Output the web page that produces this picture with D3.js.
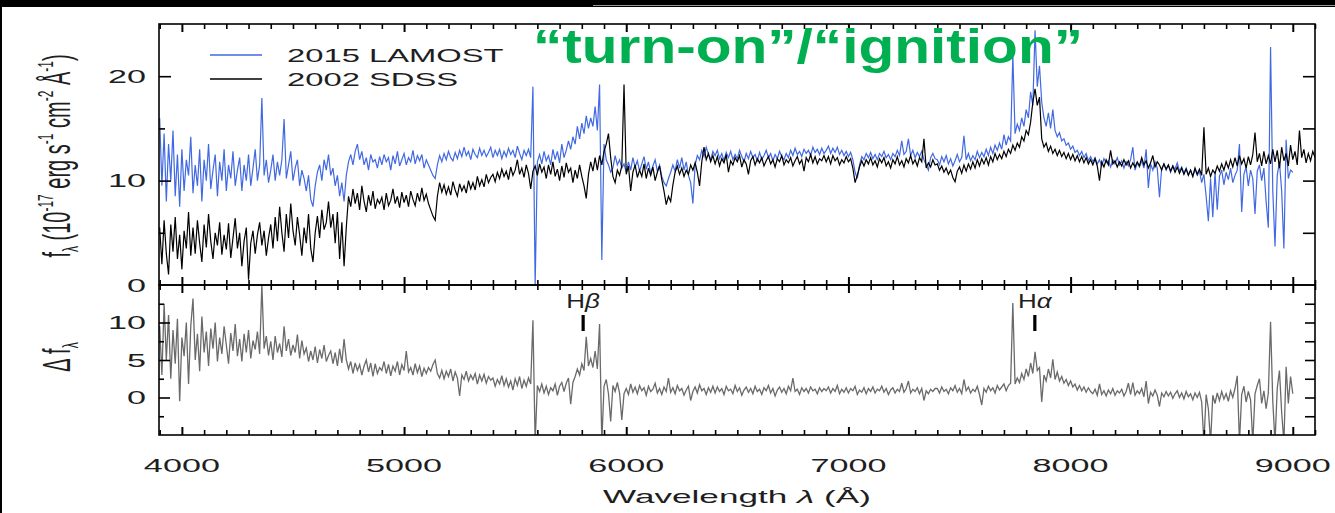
<!DOCTYPE html>
<html><head><meta charset="utf-8">
<script src="https://cdn.jsdelivr.net/npm/d3@7"></script>
<style>
html,body{margin:0;padding:0;background:#000;overflow:hidden;}
svg{display:block;}
text{font-family:"Liberation Sans",Arial,Helvetica,sans-serif;fill:#1e1e1e;}
</style></head><body>
<svg id="c" width="1335" height="513"></svg>
<script>
// ---- data: spectra sampled on a 10 Å grid starting at 3900 Å ----
const waveStart = 3900, waveStep = 10;
const lamost2015 = [
16.0,9.5,14.5,8.0,13.5,10.0,14.8,8.5,12.5,7.5,13.0,9.0,12.0,10.5,14.2,8.8,11.5,9.5,13.0,8.0,12.0,10.0,13.5,9.2,11.0,12.5,8.5,11.8,10.0,13.0,9.0,11.5,10.2,12.8,9.5,11.0,12.2,9.0,11.5,10.0,12.5,9.5,11.2,13.0,10.0,11.5,17.9,10.5,12.0,9.8,
11.0,12.5,10.0,11.8,10.5,12.0,15.9,10.2,11.5,12.8,10.0,11.2,12.0,9.5,11.0,10.2,9.0,10.5,8.2,7.5,9.5,10.8,11.5,10.0,12.0,11.0,12.5,10.5,11.2,9.5,10.5,8.5,9.8,8.0,10.5,11.8,12.5,11.5,12.8,13.5,12.0,12.8,11.5,12.2,11.0,12.5,11.8,12.0,11.2,12.3,
11.5,12.5,11.8,12.2,11.0,12.4,11.6,12.8,11.4,12.0,12.6,11.5,12.2,11.8,12.9,11.6,12.4,11.9,12.5,11.2,12.0,11.5,11.0,10.5,10.2,11.5,12.4,11.8,12.6,12.0,12.8,12.2,11.9,12.7,12.1,12.9,12.3,13.2,12.4,12.8,12.0,13.0,12.5,12.2,13.1,12.4,12.9,12.3,12.7,13.2,
12.2,12.9,12.4,13.0,12.1,12.8,12.3,13.1,12.5,12.9,12.2,13.3,12.6,12.0,12.9,12.4,13.0,12.2,19.0,0.0,11.8,12.5,11.6,12.8,11.9,12.4,11.5,13.0,12.0,12.8,11.7,13.5,12.2,12.9,13.8,13.0,14.2,13.5,15.2,14.0,15.5,14.5,16.2,15.0,16.0,15.2,17.1,14.8,19.2,2.4,
13.5,12.0,11.5,10.8,11.2,12.4,11.5,12.0,11.2,11.6,10.8,11.8,11.0,12.2,11.3,11.9,10.9,11.6,12.3,11.1,11.8,10.7,11.4,12.0,10.9,11.5,10.4,9.8,9.5,10.2,10.8,11.5,10.9,12.0,11.2,12.2,11.0,11.8,10.5,9.8,7.8,11.5,12.4,12.0,12.9,12.3,13.2,12.5,12.0,12.8,
12.4,12.9,12.1,12.6,11.9,12.7,12.2,12.8,12.0,12.5,12.1,12.9,12.3,11.8,12.6,12.1,12.8,12.2,12.5,11.9,12.7,12.0,12.4,12.9,12.2,12.6,11.9,12.5,12.1,12.8,12.3,12.0,12.6,12.2,12.9,12.4,13.1,12.5,12.8,12.3,13.0,12.6,12.9,12.4,13.2,12.7,13.0,12.5,13.1,12.6,
12.9,13.3,12.6,13.1,12.7,13.2,12.5,12.9,12.4,12.8,12.3,12.7,12.0,10.8,10.2,11.5,12.3,12.0,12.6,12.2,12.7,12.1,12.5,12.0,12.6,12.3,12.8,12.2,12.5,12.0,12.6,12.3,12.9,12.4,13.8,12.5,12.8,14.0,12.4,12.9,12.2,12.7,12.3,12.8,12.0,11.5,11.0,12.2,12.6,12.1,
12.0,11.5,12.3,11.8,12.4,11.6,12.1,11.4,11.9,12.5,11.8,12.2,14.3,12.0,12.6,11.9,12.4,12.0,12.8,12.2,12.7,12.3,13.0,12.4,13.2,12.6,13.4,12.9,13.6,13.0,14.4,13.4,14.2,13.8,22.0,14.5,15.4,14.8,16.0,15.2,16.8,16.0,18.5,17.2,24.4,19.0,21.0,17.5,16.0,15.2,
16.5,15.0,16.8,14.8,14.2,14.6,13.8,14.0,13.4,13.6,13.0,13.3,12.7,12.9,12.4,12.8,12.2,12.6,11.9,12.3,11.8,12.2,11.6,12.0,11.4,12.1,11.7,11.9,11.3,12.0,11.6,12.2,11.5,11.9,11.2,11.8,11.4,12.0,13.2,11.0,11.7,11.3,11.9,11.2,13.0,9.3,11.6,11.0,11.8,11.2,
8.4,11.2,11.6,11.0,11.5,10.8,11.4,11.1,11.7,10.9,11.3,10.7,11.2,10.6,11.0,10.4,11.1,10.5,10.9,9.8,10.6,8.5,6.1,10.2,6.5,10.8,7.2,10.4,11.0,9.6,10.8,10.1,11.2,9.8,10.5,11.0,13.5,7.0,10.6,11.3,9.5,11.0,10.2,6.8,10.9,11.5,10.0,11.2,8.0,5.5,
22.8,9.0,3.7,10.5,11.8,9.0,3.5,13.9,10.2,11.0,10.8
];
const sdss2002 = [
5.5,2.0,6.2,3.0,1.0,5.8,3.2,6.5,2.5,4.8,1.5,5.2,3.5,7.0,2.8,5.5,3.0,6.2,4.0,2.2,5.8,3.6,6.8,4.2,2.5,5.0,3.8,6.0,2.9,4.8,3.4,5.9,2.6,4.5,6.4,3.5,5.0,1.8,4.2,5.5,0.5,4.0,5.2,3.0,4.8,6.0,3.8,5.2,2.8,4.5,
5.8,3.5,6.5,4.2,7.5,5.0,3.2,6.8,4.5,7.8,5.2,3.8,6.5,4.8,2.8,5.5,4.0,6.8,3.5,2.2,5.0,6.6,4.5,7.2,5.3,6.0,8.0,5.5,6.8,4.0,7.0,2.5,6.0,1.8,5.5,8.5,7.5,9.2,7.8,8.8,7.2,9.5,8.0,7.0,8.6,7.6,9.0,7.3,8.2,7.8,
8.4,7.2,8.8,7.6,8.1,9.2,7.8,8.5,7.4,8.9,7.9,8.6,7.5,9.0,8.2,7.6,8.8,8.0,9.3,8.1,8.7,7.8,7.2,6.6,6.2,8.5,9.8,8.9,9.6,8.7,9.4,8.6,9.9,9.1,8.5,9.7,9.0,9.5,8.8,10.0,9.2,9.8,9.1,10.4,9.5,10.1,9.4,10.6,9.8,10.3,
10.6,9.9,10.8,10.2,11.1,10.4,10.9,10.1,11.3,10.5,11.0,12.0,10.6,11.2,10.3,11.5,10.7,9.2,10.9,11.4,10.5,11.6,10.8,11.3,10.2,11.5,10.6,11.8,10.4,11.1,10.0,11.4,10.3,11.7,10.8,11.2,9.8,11.0,10.2,11.5,10.4,9.5,8.3,10.6,11.8,10.9,12.2,11.0,12.4,11.5,
12.8,13.5,14.5,12.2,10.4,9.8,11.0,10.5,11.4,19.2,10.6,11.4,9.0,10.8,11.5,10.3,11.0,10.4,11.6,10.2,11.2,10.5,11.3,10.0,10.8,11.4,10.1,9.0,7.7,8.5,8.0,9.6,10.8,11.4,10.6,11.2,10.4,11.0,10.6,11.5,11.0,11.7,10.8,9.5,11.8,13.2,12.0,12.6,11.8,12.4,
11.6,12.3,11.4,12.1,11.7,12.5,10.8,11.9,11.5,12.2,11.8,12.4,11.3,12.0,11.6,10.6,11.9,12.3,11.5,12.1,11.7,12.2,11.4,11.9,12.3,11.6,12.0,11.3,12.1,11.8,12.4,11.5,12.0,11.7,12.2,11.4,11.9,12.3,11.6,12.0,10.9,12.2,11.8,12.5,11.7,12.3,11.6,12.1,11.9,12.4,
11.8,12.3,11.6,12.4,11.9,12.2,11.5,12.0,11.7,12.3,11.8,12.1,11.2,9.8,10.5,11.3,11.9,11.4,12.0,11.6,12.2,11.5,11.9,11.3,12.1,11.7,12.2,11.4,11.8,11.2,12.0,11.6,12.3,11.5,11.9,11.3,12.1,11.7,12.4,11.6,12.0,11.4,12.2,11.8,14.0,11.2,11.7,11.3,12.0,11.5,
11.6,11.0,11.4,10.8,11.2,10.6,11.0,10.3,9.9,10.9,11.3,10.7,11.5,10.9,11.6,11.1,11.8,11.2,12.0,11.4,12.1,11.6,12.2,11.5,12.3,11.8,12.6,12.0,12.5,12.1,12.8,12.3,13.0,12.6,13.4,12.9,13.6,13.2,14.2,13.8,14.8,14.4,15.6,17.5,18.8,17.2,18.0,14.0,13.2,13.6,
12.8,13.3,12.6,13.0,12.4,12.9,12.3,12.7,12.1,12.6,12.0,12.5,11.9,12.4,11.8,12.3,11.7,12.2,11.6,12.0,11.5,12.1,11.4,10.0,11.8,11.3,12.0,11.5,12.9,11.6,11.9,11.3,11.8,11.4,12.0,11.5,11.9,11.2,11.7,11.3,11.8,11.4,12.2,11.5,11.9,11.2,11.7,12.4,11.3,11.8,
11.5,11.0,11.6,11.1,11.5,10.9,11.4,10.8,11.3,10.7,11.2,10.6,11.1,10.5,11.0,10.4,11.2,10.6,11.1,10.5,15.1,10.6,11.2,10.4,11.0,10.7,11.4,10.9,11.6,11.0,11.8,11.2,12.0,11.3,12.2,11.4,12.4,11.6,12.1,11.2,12.3,11.5,12.5,14.6,11.8,12.6,11.4,12.8,11.6,12.4,
11.6,13.0,11.8,12.9,11.2,13.2,11.9,12.6,11.4,13.4,12.0,12.8,11.5,14.8,12.2,13.0,11.7,12.6,11.9,12.8,12.2
];
const deltaFlux = [
9.5,3.0,12.5,5.0,11.0,2.5,9.0,4.5,10.5,-0.5,8.0,5.5,10.0,1.8,9.5,13.2,5.0,8.5,3.5,10.8,6.0,8.8,4.2,9.2,6.5,10.0,4.8,8.0,5.8,9.5,7.0,4.5,8.6,6.2,9.8,5.5,7.8,4.8,8.5,6.0,9.0,5.2,7.6,6.4,8.8,5.8,15.0,6.5,8.2,5.6,
7.5,5.0,8.2,6.0,7.2,5.4,9.5,6.2,7.8,5.6,7.0,6.0,8.4,5.2,7.6,5.8,6.6,4.8,6.2,5.0,6.8,4.6,6.4,5.2,7.0,4.8,5.6,6.2,4.5,6.0,4.2,6.5,4.6,7.8,5.0,3.8,4.8,3.2,4.6,3.6,4.4,3.0,4.2,5.0,3.4,4.6,2.8,4.5,3.2,4.0,
3.6,4.8,3.2,4.4,2.9,4.2,3.5,4.8,3.0,4.4,3.6,6.2,3.4,4.0,3.0,4.5,3.3,4.2,2.8,3.9,3.2,4.0,3.5,4.4,5.0,3.2,2.6,3.6,2.5,3.5,2.8,3.8,2.2,3.4,2.6,0.2,3.0,2.4,3.5,2.2,3.0,2.4,3.2,1.8,3.0,2.2,3.1,1.9,2.8,2.3,
2.6,1.5,2.4,1.8,2.9,1.6,2.5,1.4,2.2,1.0,2.5,1.6,2.8,1.2,2.3,1.5,2.6,1.8,10.3,-6.0,1.6,0.8,1.8,0.6,1.5,0.4,1.3,0.9,1.8,0.3,1.5,2.0,0.8,1.9,2.6,-0.9,2.0,2.8,3.8,3.0,4.5,3.6,8.1,4.2,5.2,4.0,6.2,3.8,9.8,-6.0,
1.5,2.4,0.5,-3.2,1.6,0.8,2.0,0.6,-3.0,0.5,1.2,0.4,1.8,0.7,1.4,0.5,1.6,0.9,1.3,0.3,1.5,0.8,1.1,1.9,0.6,1.2,0.4,1.4,0.8,2.6,0.7,1.3,0.5,1.6,0.9,1.2,0.3,1.0,1.5,-0.4,0.8,1.4,0.6,1.7,0.9,1.2,0.4,1.3,0.7,1.5,
0.6,1.4,0.8,1.2,0.4,1.5,0.9,1.1,0.5,1.6,0.8,1.3,0.3,1.0,1.4,0.7,1.2,0.5,1.5,0.8,1.1,0.4,1.3,0.9,1.6,0.6,1.2,0.2,1.0,1.4,0.7,1.2,0.5,1.5,0.9,2.6,0.8,1.1,0.4,1.3,0.8,1.2,0.6,1.4,0.9,1.1,0.5,1.3,0.8,1.2,
0.9,1.4,0.6,1.2,0.8,1.6,0.5,1.1,0.7,1.3,0.6,1.2,0.9,1.5,0.4,1.0,0.7,1.3,0.5,1.2,0.8,1.4,0.6,1.1,0.9,1.5,0.7,1.2,0.4,1.0,1.3,0.6,1.1,0.8,1.9,0.7,1.2,2.2,0.6,1.1,0.8,1.3,0.5,1.2,-0.4,0.9,0.5,1.1,0.8,1.2,
1.2,0.6,1.4,0.8,1.1,0.5,1.3,0.9,1.6,0.7,1.2,0.5,2.4,0.9,1.4,0.6,1.1,0.8,1.5,0.4,-1.0,1.2,0.7,1.5,0.9,1.3,0.6,1.6,1.0,1.4,1.8,0.9,1.6,1.9,12.6,1.8,2.6,2.0,3.2,2.4,3.8,2.8,4.6,3.2,6.1,3.6,4.0,-0.6,3.0,2.2,
3.8,2.6,5.1,2.4,3.4,2.2,2.8,1.9,2.4,1.6,2.2,1.4,1.8,1.0,1.6,0.9,1.4,0.7,1.3,0.8,0.5,1.1,0.3,1.8,0.4,0.9,0.2,1.0,0.5,1.2,0.3,0.9,0.6,1.1,0.2,0.8,1.9,0.4,2.0,0.3,0.9,0.5,1.2,0.1,2.2,-0.8,0.7,0.2,1.0,0.3,
-1.2,0.6,0.1,0.8,0.2,0.7,-0.1,0.5,0.9,0.0,0.6,-0.2,0.8,0.1,0.5,-0.3,0.6,0.0,0.7,-0.6,-6.0,0.4,-1.5,-6.0,0.3,-0.8,0.6,-0.4,0.8,-0.2,0.5,-0.5,0.9,0.0,1.2,2.9,-6.0,0.4,1.5,-0.6,0.8,-0.3,-6.0,0.5,1.6,2.5,-0.8,0.9,-1.5,0.6,
10.1,-0.5,-6.0,1.2,3.6,-2.0,-6.0,4.1,-0.8,2.8,0.5
];
const xMajorTicks = [4000,5000,6000,7000,8000,9000];
const upperYLabels = [0,10,20];
const lowerYLabels = [0,5,10];
const lineMarkers = [{base:"H", greek:"β", wave:5806},{base:"H", greek:"α", wave:7839}];
const legendLabels = ["2015 LAMOST","2002 SDSS"];
const annotation = "\u201Cturn-on\u201D/\u201Cignition\u201D";

// ---- layout ----
const L = 159, R = 1315, T = 24, MID = 285, B = 435;
const SX = 1.9;                       // horizontal stretch of the original figure text
const blue = "#4169e1", gray = "#6a6a6a";

const svg = d3.select("#c");
svg.append("rect").attr("x",2).attr("y",7).attr("width",1333).attr("height",506).attr("fill","#fff");
svg.append("line").attr("x1",593).attr("x2",1335).attr("y1",5.5).attr("y2",5.5).attr("stroke","#9a9a9a").attr("stroke-width",1);

const x = d3.scaleLinear().domain([3897,9100]).range([L,R]);
const yU = d3.scaleLinear().domain([0,25]).range([MID,T]);
const yL = d3.scaleLinear().domain([-5,15]).range([B,MID]);
const wave = i => waveStart + i*waveStep;

const defs = svg.append("defs");
defs.append("clipPath").attr("id","cu").append("rect").attr("x",L).attr("y",T).attr("width",R-L).attr("height",MID-T);
defs.append("clipPath").attr("id","cl").append("rect").attr("x",L).attr("y",MID).attr("width",R-L).attr("height",B-MID);

const lineU = d3.line().x((d,i)=>x(wave(i))).y(d=>yU(d));
const lineL = d3.line().x((d,i)=>x(wave(i))).y(d=>yL(d));

const gU = svg.append("g").attr("clip-path","url(#cu)");
gU.append("path").datum(lamost2015).attr("d",lineU).attr("fill","none").attr("stroke",blue).attr("stroke-width",1.2);
gU.append("path").datum(sdss2002).attr("d",lineU).attr("fill","none").attr("stroke","#000").attr("stroke-width",1.2);
const gL = svg.append("g").attr("clip-path","url(#cl)");
gL.append("path").datum(deltaFlux).attr("d",lineL).attr("fill","none").attr("stroke",gray).attr("stroke-width",1.3);

// frames
[[T,MID],[MID,B]].forEach(([a,b])=>{
  svg.append("rect").attr("x",L).attr("y",a).attr("width",R-L).attr("height",b-a)
    .attr("fill","none").attr("stroke","#000").attr("stroke-width",1.6);
});

// ticks via d3 axes
const minorX = d3.range(3900,9101,100).filter(v=>!xMajorTicks.includes(v));
function axisTicks(axis, tx, ty, w){
  const g = svg.append("g").attr("transform",`translate(${tx},${ty})`).call(axis);
  g.select(".domain").remove();
  g.selectAll("line").attr("stroke","#000").attr("stroke-width",w);
  g.selectAll("text").remove();
}
[[T,"down"],[MID,"up"],[MID,"down"],[B,"up"]].forEach(([yy,dir])=>{
  const mk = dir==="down" ? d3.axisBottom : d3.axisTop;
  axisTicks(mk(x).tickValues(minorX).tickSize(5).tickFormat(""),0,yy,1.6);
  axisTicks(mk(x).tickValues(xMajorTicks).tickSize(8).tickFormat(""),0,yy,2);
});
axisTicks(d3.axisRight(yU).tickValues([10,20]).tickSize(12).tickFormat(""),L,0,1.6);
axisTicks(d3.axisRight(yU).tickValues([5,15]).tickSize(6).tickFormat(""),L,0,1.6);
axisTicks(d3.axisLeft(yU).tickValues([5,10,15,20]).tickSize(12).tickFormat(""),R,0,1.6);
axisTicks(d3.axisRight(yL).tickValues([0,5,10]).tickSize(11).tickFormat(""),L,0,1.6);
axisTicks(d3.axisRight(yL).tickValues([-2.5,2.5,7.5,12.5]).tickSize(5).tickFormat(""),L,0,1.6);
axisTicks(d3.axisLeft(yL).tickValues([-2.5,0,2.5,5,7.5,10,12.5]).tickSize(10).tickFormat(""),R,0,1.6);

// stretched text helper
function sText(px, py, anchor, size, sx){
  return svg.append("g").attr("transform",`translate(${px},${py}) scale(${sx},1)`)
    .append("text").attr("text-anchor",anchor).attr("font-size",size);
}
xMajorTicks.forEach(v=> sText(x(v),471.5,"middle",18,SX).text(v));
upperYLabels.forEach(v=> sText(146,yU(v)+6.5,"end",18,SX).text(v));
lowerYLabels.forEach(v=> sText(146,yL(v)+6.5,"end",18,SX).text(v));

// x title
const xt = sText(737,503,"middle",18.5,SX);
xt.append("tspan").text("Wavelength ");
xt.append("tspan").attr("font-style","italic").text("λ");
xt.append("tspan").text(" (Å)");

// y titles (rotated, stretched horizontally on screen)
function yTitle(cy, size){
  return svg.append("g").attr("transform",`translate(70,${cy}) scale(${SX},1) rotate(-90)`)
    .append("text").attr("text-anchor","middle").attr("font-size",size);
}
const yt = yTitle(156,20);
yt.append("tspan").text("f");
yt.append("tspan").attr("font-size",12).attr("dy",4).text("λ");
yt.append("tspan").attr("dy",-4).text(" (10");
yt.append("tspan").attr("font-size",12).attr("dy",-9).text("-17");
yt.append("tspan").attr("dy",9).text(" erg s");
yt.append("tspan").attr("font-size",12).attr("dy",-9).text("-1");
yt.append("tspan").attr("dy",9).text(" cm");
yt.append("tspan").attr("font-size",12).attr("dy",-9).text("-2");
yt.append("tspan").attr("dy",9).text(" Å");
yt.append("tspan").attr("font-size",12).attr("dy",-9).text("-1");
yt.append("tspan").attr("dy",9).text(")");
const yt2 = yTitle(357,20);
yt2.append("tspan").text("Δ f");
yt2.append("tspan").attr("font-size",12).attr("dy",4).text("λ");

// legend
const legColors = [blue,"#000"];
const legY = [55,79];
legendLabels.forEach((lab,i)=>{
  svg.append("line").attr("x1",210).attr("x2",262).attr("y1",legY[i]).attr("y2",legY[i])
    .attr("stroke",legColors[i]).attr("stroke-width",1.5);
  sText(287,legY[i]+7.3,"start",18,1.82).text(lab);
});

// emission line markers
lineMarkers.forEach(m=>{
  const t = sText(x(m.wave),308,"middle",20,1.3);
  t.append("tspan").text(m.base);
  t.append("tspan").attr("font-style","italic").text(m.greek);
  svg.append("rect").attr("x",x(m.wave)-1.6).attr("y",315).attr("width",3.2).attr("height",16).attr("fill","#000");
});

// annotation
svg.append("text").attr("x",533).attr("y",63).attr("font-family","'DejaVu Sans',sans-serif")
  .attr("font-weight","bold").attr("font-size",49).attr("textLength",550).attr("lengthAdjust","spacingAndGlyphs")
  .style("fill","#00b050").text(annotation);
</script>
</body></html>
